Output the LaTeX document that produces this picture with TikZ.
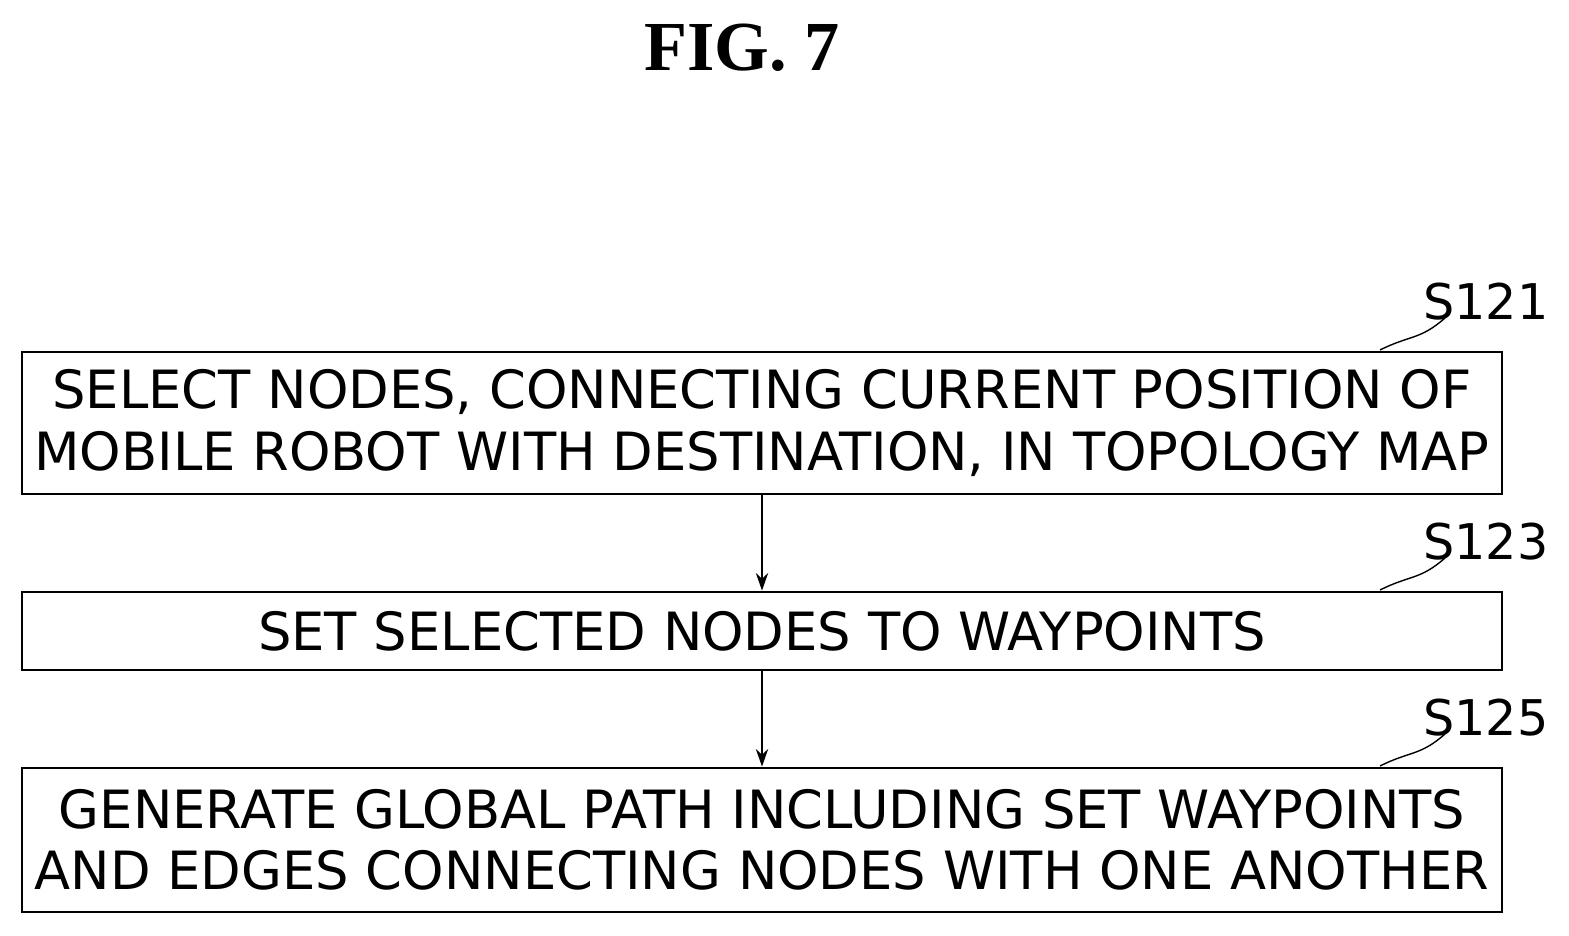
\documentclass[tikz,border=0pt]{standalone}
\usepackage{fontspec}
\setsansfont{DejaVu Sans}
\newfontfamily\titlefont{Liberation Serif}
\usetikzlibrary{arrows.meta}
\tikzset{
	stepbox/.style={shape=rectangle, draw, line width=1.6pt, minimum width=29.6cm, align=center, font=\sffamily\fontsize{30}{35}\selectfont, inner sep=0pt},
	steplabel/.style={font=\sffamily\fontsize{28}{32}\selectfont},
	flow/.style={line width=1.2pt, -{Stealth[length=10pt, width=7pt]}},
	leader/.style={line width=0.8pt}
}
\begin{document}
\begin{tikzpicture}
	\useasboundingbox (0,0) rectangle (31.38,18.7);
	% Title:
	\node[font=\titlefont\bfseries\fontsize{40}{44}\selectfont](T) at (14.84, 17.74){FIG. 7};
	% Steps:
	\node[stepbox, minimum height=2.84cm](B1) at (15.24, 10.24){SELECT NODES, CONNECTING CURRENT POSITION OF\\MOBILE ROBOT WITH DESTINATION, IN TOPOLOGY MAP};
	\node[stepbox, minimum height=1.56cm](B2) at (15.24, 6.08){SET SELECTED NODES TO WAYPOINTS};
	\node[stepbox, minimum height=2.88cm](B3) at (15.24, 1.9){GENERATE GLOBAL PATH INCLUDING SET WAYPOINTS\\AND EDGES CONNECTING NODES WITH ONE ANOTHER};
	% Labels and leaders:
	\node[steplabel](L1) at (29.72, 12.66){S121};
	\node[steplabel](L2) at (29.72, 7.86){S123};
	\node[steplabel](L3) at (29.72, 4.34){S125};
	\draw[leader] (27.6, 11.7) .. controls (28.2, 12.0) and (28.4, 11.9) .. (28.9, 12.34);
	\draw[leader] (27.6, 6.9) .. controls (28.2, 7.2) and (28.4, 7.1) .. (28.9, 7.54);
	\draw[leader] (27.6, 3.38) .. controls (28.2, 3.68) and (28.4, 3.58) .. (28.9, 4.02);
	% Arrows:
	\draw[flow] (B1.south) -- (B2.north);
	\draw[flow] (B2.south) -- (B3.north);
\end{tikzpicture}
\end{document}
